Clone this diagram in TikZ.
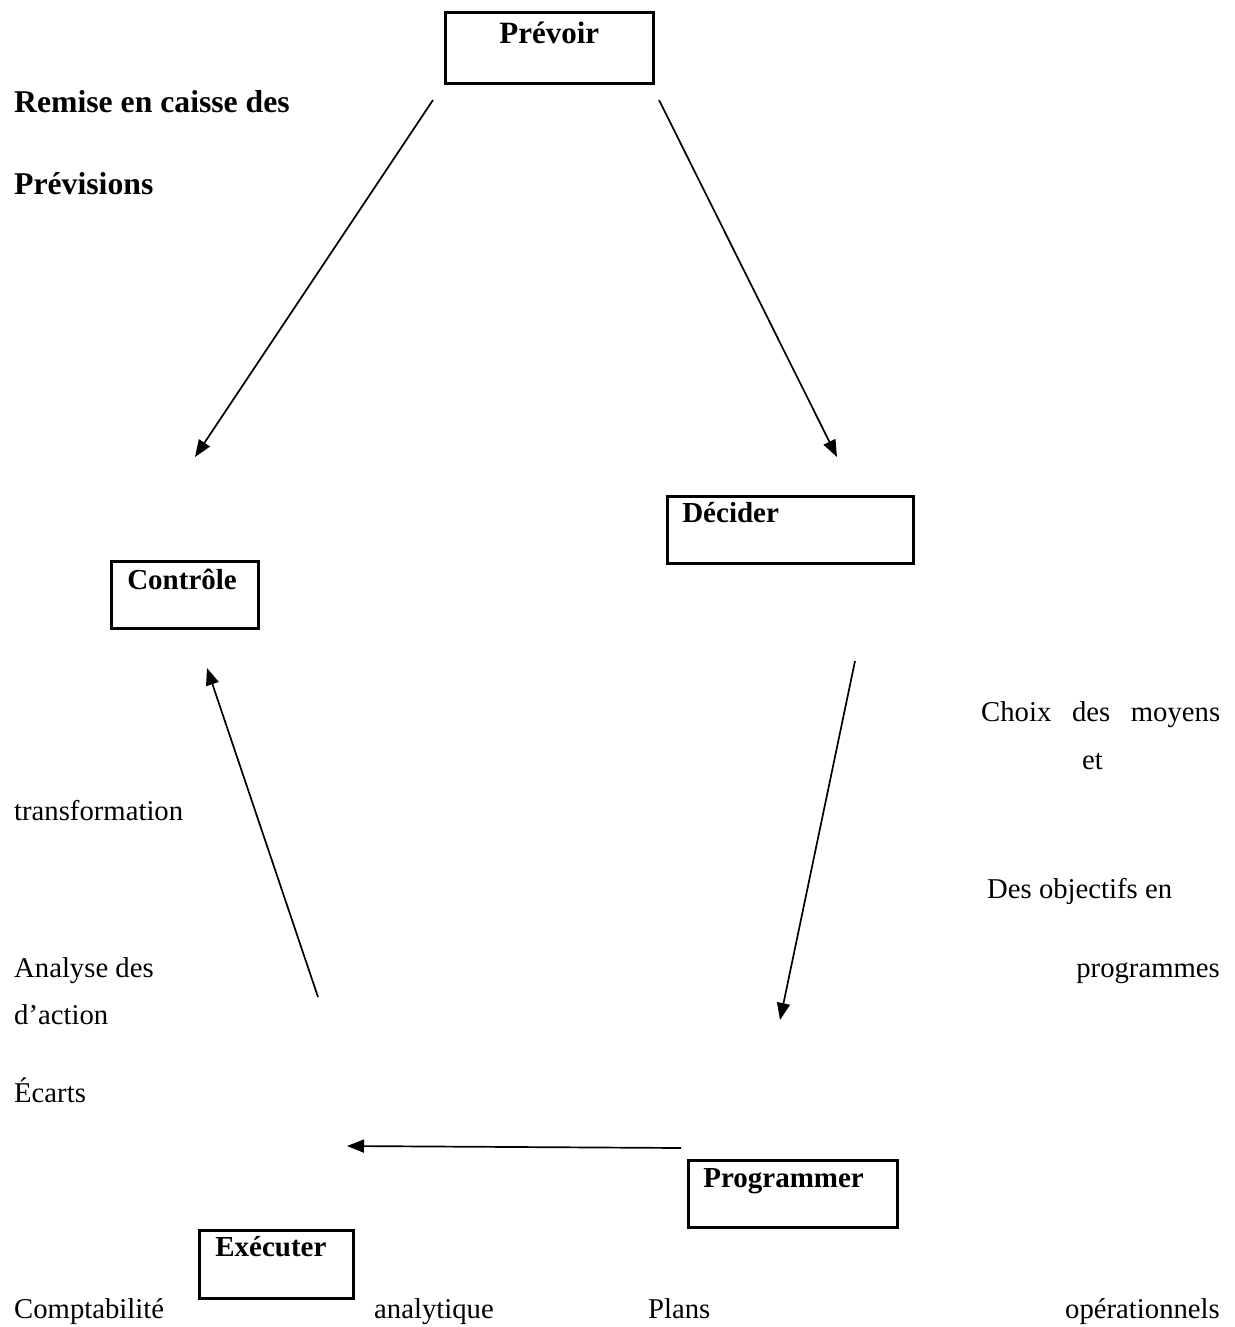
\documentclass[tikz,border=0pt]{standalone}
\usepackage{fontspec}
\setmainfont{Liberation Serif}
\usetikzlibrary{arrows.meta}

\tikzset{
    etape/.style={draw, line width=2.6pt, inner ysep=0pt, anchor=north west,
        align=left, font=\bfseries\fontsize{29}{34}\selectfont},
    texte/.style={inner sep=0pt, anchor=base west, font=\fontsize{28.7}{34}\selectfont},
    titre/.style={texte, font=\bfseries\fontsize{31.7}{38}\selectfont},
    fleche/.style={->, line width=1.7pt}
}

\begin{document}
\begin{tikzpicture}[x=1pt, y=-1pt, >={Triangle[length=17pt,width=13pt]}]
    \useasboundingbox (0,0) rectangle (1234,1327);

    % Nodes {prevoir, decider, programmer, executer, controle}
    \node [etape, align=center, inner xsep=0pt, text width=208pt, text height=31pt, text depth=40pt,
           font=\bfseries\fontsize{31}{36}\selectfont]                      (prevoir)    at (444,11)   {Prévoir};
    \node [etape, inner xsep=15pt, text width=216pt, text height=26pt, text depth=41pt] (decider)    at (666,495)  {Décider};
    \node [etape, inner xsep=16pt, text width=115pt, text height=28pt, text depth=39pt] (controle)   at (110,560)  {Contrôle};
    \node [etape, inner xsep=15pt, text width=179pt, text height=27pt, text depth=40pt] (programmer) at (687,1159) {Programmer};
    \node [etape, inner xsep=16pt, text width=122pt, text height=26pt, text depth=42pt] (executer)   at (198,1229) {Exécuter};

    % Texts
    \node [titre]                      (remise)     at (14,113)   {Remise en caisse des};
    \node [titre]                      (previsions) at (14,194)   {Prévisions};
    \node [texte]                      (choix)      at (981,721)  {\makebox[239pt][s]{Choix des moyens}};
    \node [texte]                      (et)         at (1082,769) {et};
    \node [texte]                      (transfo)    at (14,820)   {transformation};
    \node [texte]                      (objectifs)  at (987,898)  {Des objectifs en};
    \node [texte]                      (analyse)    at (14,977)   {Analyse des};
    \node [texte, anchor=base east]    (programmes) at (1220,977) {programmes};
    \node [texte]                      (action)     at (14,1024)  {d’action};
    \node [texte]                      (ecarts)     at (14,1102)  {Écarts};
    \node [texte]                      (compta)     at (14,1318)  {Comptabilité};
    \node [texte]                      (analytique) at (374,1318) {analytique};
    \node [texte]                      (plans)      at (648,1318) {Plans};
    \node [texte, anchor=base east]    (operation)  at (1220,1318) {opérationnels};

    % Arrow ends
    \coordinate (prevoir-g)    at (433,100);
    \coordinate (controle-h)   at (195,457);
    \coordinate (prevoir-d)    at (659,100);
    \coordinate (decider-h)    at (837,457);
    \coordinate (decider-b)    at (855,661);
    \coordinate (programmer-h) at (780,1020);
    \coordinate (programmer-g) at (681,1148);
    \coordinate (executer-h)   at (347,1146);
    \coordinate (executer-d)   at (318,997);
    \coordinate (controle-b)   at (207,668);

    % Paths
    \path [fleche] (prevoir-g)    edge (controle-h);
    \path [fleche] (prevoir-d)    edge (decider-h);
    \path [fleche] (decider-b)    edge (programmer-h);
    \path [fleche] (programmer-g) edge (executer-h);
    \path [fleche] (executer-d)   edge (controle-b);

\end{tikzpicture}
\end{document}
